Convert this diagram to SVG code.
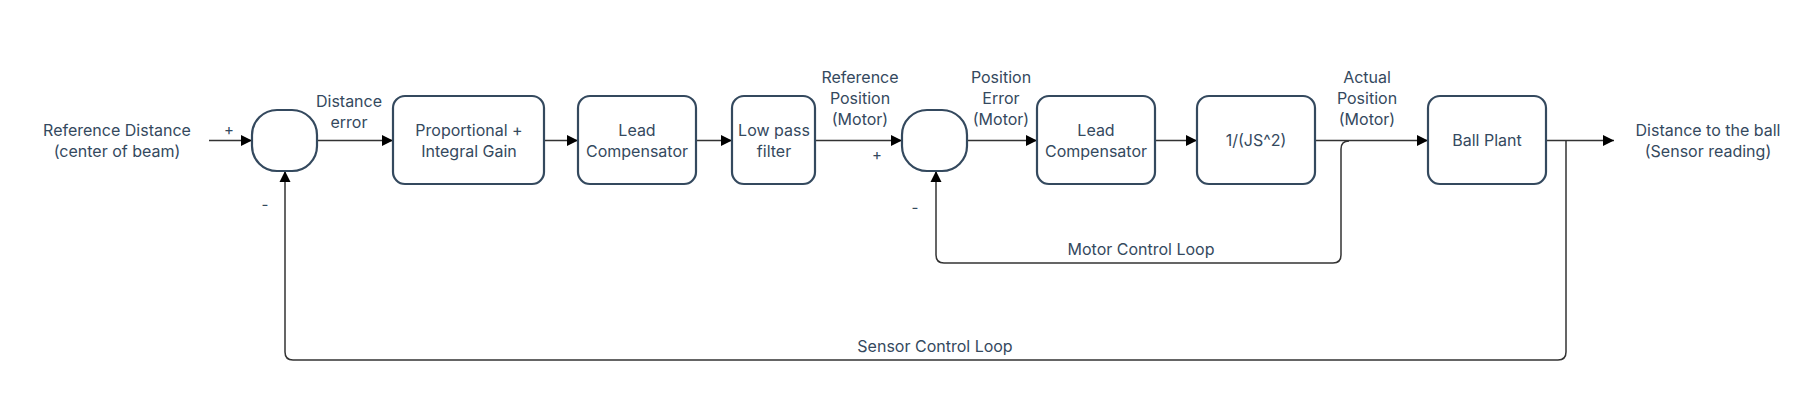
<svg xmlns="http://www.w3.org/2000/svg" width="1808" height="412" viewBox="0 0 1808 412">
<defs>
<marker id="arr" markerUnits="userSpaceOnUse" markerWidth="12" markerHeight="12" viewBox="0 0 12 12" refX="11" refY="6" orient="auto">
<path d="M0,0.5 L11,6 L0,11.5 Z" fill="#000"/>
</marker>
<style>
.box{fill:#fff;stroke:#34495e;stroke-width:2.2}
.ln{fill:none;stroke:#333;stroke-width:1.5}
text{font-family:Inter,"Noto Sans","Liberation Sans",sans-serif;font-size:16px;fill:#34495e;text-anchor:middle}
.sign{font-size:15px}
</style>
</defs>
<rect width="1808" height="412" fill="#fff"/>
<g id="connectors">
<path class="ln" d="M209,140.5 L252,140.5" marker-end="url(#arr)"/>
<path class="ln" d="M317,140.5 L393,140.5" marker-end="url(#arr)"/>
<path class="ln" d="M544,140.5 L578,140.5" marker-end="url(#arr)"/>
<path class="ln" d="M696,140.5 L732,140.5" marker-end="url(#arr)"/>
<path class="ln" d="M815,140.5 L902,140.5" marker-end="url(#arr)"/>
<path class="ln" d="M967,140.5 L1037,140.5" marker-end="url(#arr)"/>
<path class="ln" d="M1155,140.5 L1197,140.5" marker-end="url(#arr)"/>
<path class="ln" d="M1315,140.5 L1428,140.5" marker-end="url(#arr)"/>
<path class="ln" d="M1546,140.5 L1614,140.5" marker-end="url(#arr)"/>
<path class="ln" d="M1349,141 Q1341,141 1341,149 L1341,255 Q1341,263 1333,263 L944,263 Q936,263 936,255 L936,171" marker-end="url(#arr)"/>
<path class="ln" d="M1566,141 L1566,352 Q1566,360 1558,360 L293,360 Q285,360 285,352 L285,171" marker-end="url(#arr)"/>
</g>
<g id="sum1"><rect class="box" x="252" y="110" width="65" height="61" rx="25"/></g>
<g id="sum2"><rect class="box" x="902" y="110" width="65" height="61" rx="25"/></g>
<g id="pi"><rect class="box" x="393" y="96" width="151" height="88" rx="12"/>
<text x="469" y="136">Proportional +</text><text x="469" y="157">Integral Gain</text></g>
<g id="lead1"><rect class="box" x="578" y="96" width="118" height="88" rx="12"/>
<text x="637" y="136">Lead</text><text x="637" y="157">Compensator</text></g>
<g id="lpf"><rect class="box" x="732" y="96" width="83" height="88" rx="12"/>
<text x="774" y="136">Low pass</text><text x="774" y="157">filter</text></g>
<g id="lead2"><rect class="box" x="1037" y="96" width="118" height="88" rx="12"/>
<text x="1096" y="136">Lead</text><text x="1096" y="157">Compensator</text></g>
<g id="js"><rect class="box" x="1197" y="96" width="118" height="88" rx="12"/>
<text x="1256" y="146">1/(JS^2)</text></g>
<g id="ball"><rect class="box" x="1428" y="96" width="118" height="88" rx="12"/>
<text x="1487" y="146">Ball Plant</text></g>
<g id="labels">
<text x="117" y="136">Reference Distance</text><text x="117" y="157">(center of beam)</text>
<text class="sign" x="229" y="135">+</text>
<text class="sign" x="265" y="210">-</text>
<text x="349" y="107">Distance</text><text x="349" y="128">error</text>
<text x="860" y="83">Reference</text><text x="860" y="104">Position</text><text x="860" y="125">(Motor)</text>
<text class="sign" x="877" y="160">+</text>
<text class="sign" x="915" y="213">-</text>
<text x="1001" y="83">Position</text><text x="1001" y="104">Error</text><text x="1001" y="125">(Motor)</text>
<text x="1367" y="83">Actual</text><text x="1367" y="104">Position</text><text x="1367" y="125">(Motor)</text>
<text x="1708" y="136">Distance to the ball</text><text x="1708" y="157">(Sensor reading)</text>
<text x="1141" y="255">Motor Control Loop</text>
<text x="935" y="352">Sensor Control Loop</text>
</g>
</svg>
